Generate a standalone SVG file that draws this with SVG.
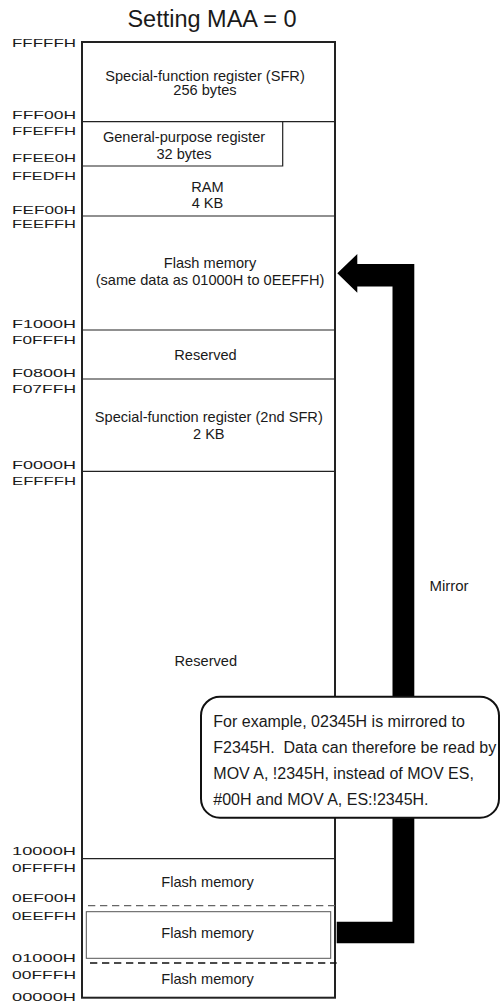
<svg xmlns="http://www.w3.org/2000/svg" width="501" height="1004" viewBox="0 0 501 1004">
<style>
text{font-family:"Liberation Sans",Arial,sans-serif;fill:#1a1a1a}
.t{font-size:14.6px;text-anchor:middle}
.addr{font-size:11.2px}
.c{font-size:16px}
.div{stroke:#222;stroke-width:1.2;fill:none}
.frame{stroke:#222;stroke-width:2;fill:none}
</style>
<rect width="501" height="1004" fill="#fff"/>
<text x="212" y="27.3" style="font-size:23.5px;text-anchor:middle">Setting MAA = 0</text>
<g id="addresses" class="addr">
<text x="12" y="46.5" textLength="64" lengthAdjust="spacingAndGlyphs" class="addr">FFFFFH</text>
<text x="12" y="119" textLength="64" lengthAdjust="spacingAndGlyphs" class="addr">FFF00H</text>
<text x="12" y="135" textLength="64" lengthAdjust="spacingAndGlyphs" class="addr">FFEFFH</text>
<text x="12" y="161.5" textLength="64" lengthAdjust="spacingAndGlyphs" class="addr">FFEE0H</text>
<text x="12" y="179.5" textLength="64" lengthAdjust="spacingAndGlyphs" class="addr">FFEDFH</text>
<text x="12" y="214" textLength="64" lengthAdjust="spacingAndGlyphs" class="addr">FEF00H</text>
<text x="12" y="227.5" textLength="64" lengthAdjust="spacingAndGlyphs" class="addr">FEEFFH</text>
<text x="12" y="328" textLength="64" lengthAdjust="spacingAndGlyphs" class="addr">F1000H</text>
<text x="12" y="344" textLength="64" lengthAdjust="spacingAndGlyphs" class="addr">F0FFFH</text>
<text x="12" y="377" textLength="64" lengthAdjust="spacingAndGlyphs" class="addr">F0800H</text>
<text x="12" y="393" textLength="64" lengthAdjust="spacingAndGlyphs" class="addr">F07FFH</text>
<text x="12" y="469" textLength="64" lengthAdjust="spacingAndGlyphs" class="addr">F0000H</text>
<text x="12" y="485" textLength="64" lengthAdjust="spacingAndGlyphs" class="addr">EFFFFH</text>
<text x="12" y="855" textLength="64" lengthAdjust="spacingAndGlyphs" class="addr">10000H</text>
<text x="12" y="871.5" textLength="64" lengthAdjust="spacingAndGlyphs" class="addr">0FFFFH</text>
<text x="12" y="902" textLength="64" lengthAdjust="spacingAndGlyphs" class="addr">0EF00H</text>
<text x="12" y="920" textLength="64" lengthAdjust="spacingAndGlyphs" class="addr">0EEFFH</text>
<text x="12" y="962" textLength="64" lengthAdjust="spacingAndGlyphs" class="addr">01000H</text>
<text x="12" y="979" textLength="64" lengthAdjust="spacingAndGlyphs" class="addr">00FFFH</text>
<text x="12" y="1001" textLength="64" lengthAdjust="spacingAndGlyphs" class="addr">00000H</text>
</g>
<g id="connectors">
<polygon points="336.7,921.7 392.5,921.7 392.5,286.5 357.3,286.5 357.3,292.7 337.3,273.3 357.3,254 357.3,264 414.3,264 414.3,943.3 336.7,943.3" fill="#000"/>
<text x="449" y="590.5" style="font-size:15px;text-anchor:middle">Mirror</text>
</g>
<g id="memory-map">
<rect x="82" y="42" width="253" height="955.7" class="frame"/>
<g id="sfr">
<line x1="82" y1="121.7" x2="335" y2="121.7" class="div"/>
<text x="205" y="80.7" class="t">Special-function register (SFR)</text>
<text x="205" y="95" class="t">256 bytes</text>
</g>
<g id="gpr">
<polyline points="82,166 282.7,166 282.7,121.7" class="div"/>
<text x="184" y="141.7" class="t">General-purpose register</text>
<text x="184" y="159" class="t">32 bytes</text>
</g>
<g id="ram">
<line x1="82" y1="216" x2="335" y2="216" class="div"/>
<text x="207.5" y="191.7" class="t">RAM</text>
<text x="207.5" y="207.7" class="t">4 KB</text>
</g>
<g id="flash-mirror">
<line x1="82" y1="330" x2="335" y2="330" class="div"/>
<text x="210" y="267.7" class="t">Flash memory</text>
<text x="210" y="285" class="t">(same data as 01000H to 0EEFFH)</text>
</g>
<g id="reserved1">
<line x1="82" y1="379" x2="335" y2="379" class="div"/>
<text x="205.5" y="360" class="t">Reserved</text>
</g>
<g id="sfr2">
<line x1="82" y1="471.3" x2="335" y2="471.3" class="div"/>
<text x="208.8" y="421.7" class="t">Special-function register (2nd SFR)</text>
<text x="208.8" y="439.3" class="t">2 KB</text>
</g>
<g id="reserved2">
<line x1="82" y1="858.7" x2="335" y2="858.7" class="div"/>
<text x="205.8" y="666" class="t">Reserved</text>
</g>
<g id="flash-top">
<line x1="88" y1="905.7" x2="335" y2="905.7" stroke="#666" stroke-width="1.2" stroke-dasharray="7.3,4.7"/>
<text x="207.5" y="886.7" class="t">Flash memory</text>
</g>
<g id="flash-mid">
<rect x="86.3" y="911.7" width="244.4" height="46.6" fill="none" stroke="#555" stroke-width="1"/>
<text x="207.5" y="938.3" class="t">Flash memory</text>
</g>
<g id="flash-low">
<line x1="90" y1="963" x2="336.7" y2="963" stroke="#111" stroke-width="1.3" stroke-dasharray="7.3,4.7"/>
<text x="207.5" y="984.3" class="t">Flash memory</text>
</g>
</g>
<g id="callout">
<rect x="201" y="696.7" width="298" height="121" rx="19" ry="19" fill="#fff" stroke="#111" stroke-width="2"/>
<text x="213.3" y="726.7" class="c">For example, 02345H is mirrored to</text>
<text x="213.3" y="753.3" class="c" xml:space="preserve">F2345H.  Data can therefore be read by</text>
<text x="213.3" y="778.8" class="c">MOV A, !2345H, instead of MOV ES,</text>
<text x="213.3" y="805" class="c">#00H and MOV A, ES:!2345H.</text>
</g>
</svg>
